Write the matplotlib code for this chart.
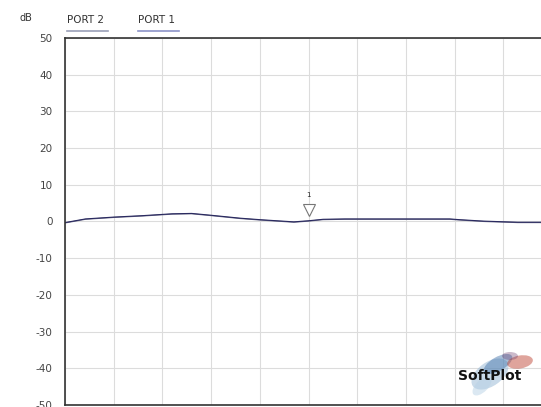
import matplotlib
matplotlib.use("Agg")
import matplotlib.pyplot as plt
import numpy as np
from matplotlib.patches import Ellipse

# data
freq_div = [0.0, 0.42, 1.0, 1.6, 2.2, 2.6, 3.0, 3.6, 4.0, 4.7, 5.0, 5.3, 5.75, 6.0, 7.0, 7.9, 8.1, 8.6, 9.3, 10.0]
port1_db = [-0.3, 0.7, 1.2, 1.6, 2.1, 2.2, 1.7, 0.9, 0.5, -0.1, 0.2, 0.6, 0.7, 0.7, 0.7, 0.7, 0.5, 0.1, -0.2, -0.2]
port2_db = [-0.4, 0.6, 1.1, 1.5, 2.0, 2.1, 1.6, 0.8, 0.4, -0.2, 0.1, 0.5, 0.6, 0.6, 0.6, 0.6, 0.4, 0.0, -0.3, -0.3]
y_ticks = [50, 40, 30, 20, 10, 0, -10, -20, -30, -40, -50]
marker_x = 5.0
marker_y = 0.2
marker_label = "1"
legend_labels = ["PORT 2", "PORT 1"]

W, H = 541, 407
fig = plt.figure(figsize=(W / 100, H / 100), dpi=100)
fig.patch.set_facecolor("white")

left, right = 65, 552
top, bottom = 38, 405
ax = fig.add_axes([left / W, 1 - bottom / H, (right - left) / W, (bottom - top) / H])
ax.set_xlim(0, 10)
ax.set_ylim(-50, 50)
ax.set_xticks(np.arange(0, 11, 1))
ax.set_yticks(y_ticks)
ax.set_xticklabels([])
ax.set_yticklabels([str(v) for v in y_ticks], fontsize=7.5, color="#444444", family="DejaVu Sans")
ax.tick_params(axis="both", length=0, pad=9)
ax.grid(True, color="#dcdcdc", linewidth=0.8)
ax.set_axisbelow(True)
for s in ["left", "bottom", "top"]:
    ax.spines[s].set_color("#333333")
    ax.spines[s].set_linewidth(1.2)
ax.spines["right"].set_visible(False)

ax.plot(freq_div, port2_db, color="#6a6a88", linewidth=0.8)
ax.plot(freq_div, port1_db, color="#2a2a60", linewidth=0.8)

# marker
ax.plot([marker_x], [marker_y + 2.8], marker="v", markersize=8, markerfacecolor="white",
        markeredgecolor="#777777", markeredgewidth=0.8, clip_on=False)
ax.text(marker_x, marker_y + 7.0, marker_label, fontsize=5, ha="center", va="center", color="#222222")

# header texts
fig.text(20 / W, 1 - 18 / H, "dB", fontsize=7, color="#333333", ha="left", va="center")
lx = [67, 138]
lcol = ["#9aa0b8", "#8c94c8"]
for x0, lab, c in zip(lx, legend_labels, lcol):
    fig.text(x0 / W, 1 - 20 / H, lab, fontsize=7.5, color="#333333", ha="left", va="center")
    fig.add_artist(plt.Line2D([x0 / W, (x0 + 41) / W], [1 - 31 / H, 1 - 31 / H],
                              color=c, linewidth=1.2, transform=fig.transFigure))

# SoftPlot logo
lax = fig.add_axes([450 / W, 1 - 402 / H, 91 / W, 60 / H])
lax.set_xlim(0, 91)
lax.set_ylim(0, 60)
lax.axis("off")
for (cx, cy, w, h, ang, col, a) in [
    (40, 28, 42, 24, 35, "#9dbcd8", 0.55),
    (48, 38, 32, 14, 30, "#3d6fa8", 0.45),
    (70, 40, 26, 13, 10, "#c04a3a", 0.5),
    (32, 16, 24, 12, 45, "#b8d2e6", 0.5),
    (60, 46, 16, 8, 0, "#6a3a6a", 0.35),
]:
    lax.add_patch(Ellipse((cx, cy), w, h, angle=ang, color=col, alpha=a, lw=0))
lax.text(8, 26, "SoftPlot", fontsize=10, fontweight="heavy", color="#111111",
         ha="left", va="center", family="DejaVu Sans")

fig.savefig("out.png", dpi=100)
